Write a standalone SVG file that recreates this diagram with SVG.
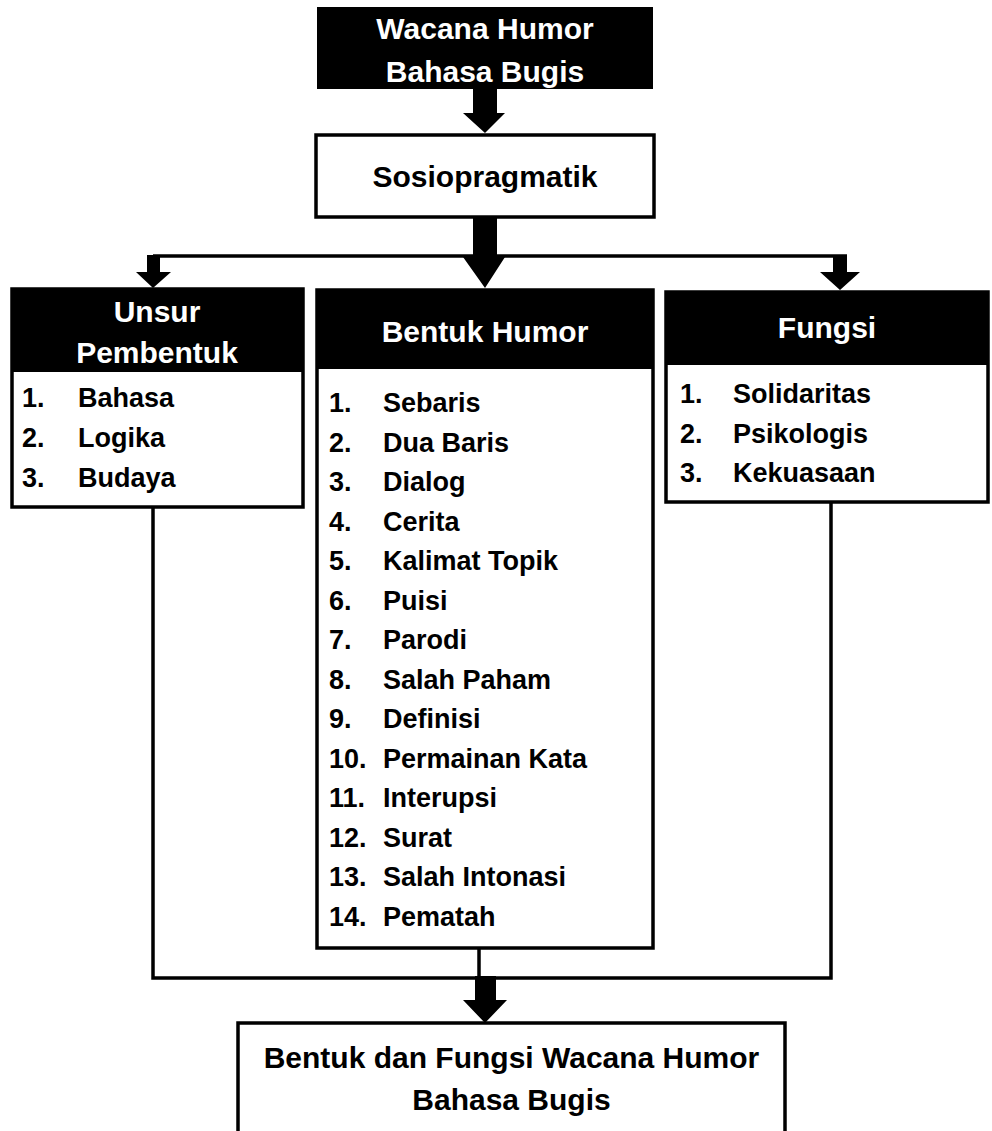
<svg xmlns="http://www.w3.org/2000/svg" width="992" height="1131" viewBox="0 0 992 1131">
<style>
.box{fill:#fff;stroke:#000;stroke-width:3.5}
.hdr{fill:#000}
.ht{font-family:"Liberation Sans",Arial,sans-serif;font-weight:bold;font-size:30px;fill:#fff;text-anchor:middle}
.bt{font-family:"Liberation Sans",Arial,sans-serif;font-weight:bold;font-size:30px;fill:#000;text-anchor:middle}
.it{font-family:"Liberation Sans",Arial,sans-serif;font-weight:bold;font-size:27px;fill:#000}
.ln{fill:none;stroke:#000;stroke-width:3.5}
.ar{fill:#000}
</style>
<rect width="992" height="1131" fill="#fff"/>
<g id="connectors">
  <path class="ar" d="M473,89 H497 V113 H505 L485,133 L463,113 H473 Z"/>
  <path class="ar" d="M473,217 H497 V257 H505 L485,288 L463,257 H473 Z"/>
  <path class="ln" d="M153,256 H847"/>
  <path class="ar" d="M147,255 H160 V272 H171 L153,288 L136,272 H147 Z"/>
  <path class="ar" d="M833,255 H847 V272 H860 L840,290 L820,272 H833 Z"/>
  <path class="ln" d="M153,507 V978 H831 V502"/>
  <path class="ln" d="M479,948 V978"/>
  <path class="ar" d="M475,976 H496 V1000 H507 L485,1023 L463,1000 H475 Z"/>
</g>
<g id="node-wacana">
  <rect class="hdr" x="317" y="7" width="336" height="82"/>
  <text class="ht" x="485" y="39">Wacana Humor</text>
  <text class="ht" x="485" y="82">Bahasa Bugis</text>
</g>
<g id="node-sosiopragmatik">
  <rect class="box" x="316" y="135" width="338" height="82"/>
  <text class="bt" x="485" y="187">Sosiopragmatik</text>
</g>
<g id="node-unsur">
  <rect class="box" x="12" y="289" width="291" height="218"/>
  <rect class="hdr" x="12" y="289" width="291" height="83"/>
  <text class="ht" x="157" y="322">Unsur</text>
  <text class="ht" x="157" y="363">Pembentuk</text>
  <text class="it" x="22" y="407">1.</text><text class="it" x="78" y="407">Bahasa</text>
  <text class="it" x="22" y="447">2.</text><text class="it" x="78" y="447">Logika</text>
  <text class="it" x="22" y="487">3.</text><text class="it" x="78" y="487">Budaya</text>
</g>
<g id="node-bentuk">
  <rect class="box" x="317" y="290" width="336" height="658"/>
  <rect class="hdr" x="317" y="290" width="336" height="79"/>
  <text class="ht" x="485" y="342">Bentuk Humor</text>
  <text class="it" x="329" y="412">1.</text><text class="it" x="383" y="412">Sebaris</text>
  <text class="it" x="329" y="451.5">2.</text><text class="it" x="383" y="451.5">Dua Baris</text>
  <text class="it" x="329" y="491">3.</text><text class="it" x="383" y="491">Dialog</text>
  <text class="it" x="329" y="530.5">4.</text><text class="it" x="383" y="530.5">Cerita</text>
  <text class="it" x="329" y="570">5.</text><text class="it" x="383" y="570">Kalimat Topik</text>
  <text class="it" x="329" y="609.5">6.</text><text class="it" x="383" y="609.5">Puisi</text>
  <text class="it" x="329" y="649">7.</text><text class="it" x="383" y="649">Parodi</text>
  <text class="it" x="329" y="688.5">8.</text><text class="it" x="383" y="688.5">Salah Paham</text>
  <text class="it" x="329" y="728">9.</text><text class="it" x="383" y="728">Definisi</text>
  <text class="it" x="329" y="767.5">10.</text><text class="it" x="383" y="767.5">Permainan Kata</text>
  <text class="it" x="329" y="807">11.</text><text class="it" x="383" y="807">Interupsi</text>
  <text class="it" x="329" y="846.5">12.</text><text class="it" x="383" y="846.5">Surat</text>
  <text class="it" x="329" y="886">13.</text><text class="it" x="383" y="886">Salah Intonasi</text>
  <text class="it" x="329" y="925.5">14.</text><text class="it" x="383" y="925.5">Pematah</text>
</g>
<g id="node-fungsi">
  <rect class="box" x="666" y="292" width="322" height="210"/>
  <rect class="hdr" x="666" y="292" width="322" height="73"/>
  <text class="ht" x="827" y="338">Fungsi</text>
  <text class="it" x="680" y="403">1.</text><text class="it" x="733" y="403">Solidaritas</text>
  <text class="it" x="680" y="443">2.</text><text class="it" x="733" y="443">Psikologis</text>
  <text class="it" x="680" y="482">3.</text><text class="it" x="733" y="482">Kekuasaan</text>
</g>
<g id="node-hasil">
  <rect class="box" x="238" y="1023" width="547" height="120"/>
  <text class="bt" x="511.5" y="1068">Bentuk dan Fungsi Wacana Humor</text>
  <text class="bt" x="511.5" y="1110">Bahasa Bugis</text>
</g>
</svg>
